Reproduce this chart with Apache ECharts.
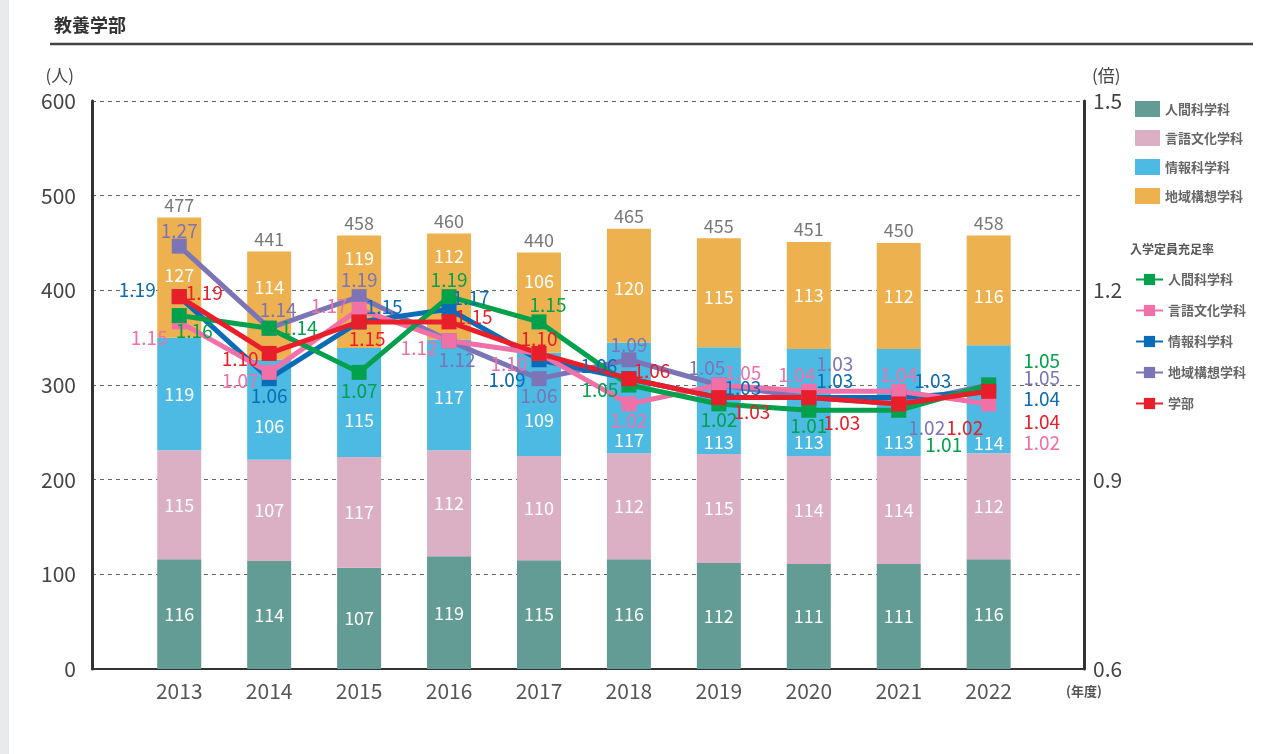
<!DOCTYPE html>
<html>
<head>
<meta charset="utf-8">
<script src="https://cdn.jsdelivr.net/npm/echarts@6/dist/echarts.min.js"></script>
<style>
  html, body { margin: 0; padding: 0; background: #fff; }
  #chart { width: 1287px; height: 754px; }
</style>
</head>
<body>
<div id="chart"></div>
<script>
const years = ['2013', '2014', '2015', '2016', '2017', '2018', '2019', '2020', '2021', '2022'];

// 在籍者数 (人)
const humanSci = [116, 114, 107, 119, 115, 116, 112, 111, 111, 116];
const langCulture = [115, 107, 117, 112, 110, 112, 115, 114, 114, 112];
const infoSci = [119, 106, 115, 117, 109, 117, 113, 113, 113, 114];
const regionDesign = [127, 114, 119, 112, 106, 120, 115, 113, 112, 116];

// 入学定員充足率 (倍)
const rateHuman = [1.16, 1.14, 1.07, 1.19, 1.15, 1.05, 1.02, 1.01, 1.01, 1.05];
const rateLang = [1.15, 1.07, 1.17, 1.12, 1.10, 1.02, 1.05, 1.04, 1.04, 1.02];
const rateInfo = [1.19, 1.06, 1.15, 1.17, 1.09, 1.06, 1.03, 1.03, 1.03, 1.04];
const rateRegion = [1.27, 1.14, 1.19, 1.12, 1.06, 1.09, 1.05, 1.03, 1.02, 1.05];
const rateFaculty = [1.19, 1.10, 1.15, 1.15, 1.10, 1.06, 1.03, 1.03, 1.02, 1.04];

// label nudges (px) so the numbers keep clear of the lines
const shiftHuman = [0, 0, 0, 0, 0, 0, 0, 0, 0, 0];
const shiftLang = [0, 0, 0, 0, 0, 0, 0, 0, 0, 0];
const shiftInfo = [0, 17, 18, 2, 16, 42, 42, 40, 40, 44];
const shiftRegion = [-2, -18, -34, -30, -21, 3, 4, 0, 0, 6];

const offHuman = [[15, 15], [30, 0], [0, 18], [0, -17], [9, -17], [-29, 5], [0, 16], [0, 16], [45, 35], [53, -24]];
const offLang = [[-30, 16], [-29, 8], [-30, -3], [-30, 7], [-30, 10], [0, 17], [24, -12], [-12, -17], [0, -17], [53, 39]];
const offInfo = [[-42, -7], [0, 17], [25, -15], [22, -11], [-32, 20], [-30, -13], [24, -10], [26, -17], [34, -17], [53, 7]];
const offRegion = [[0, -15], [9, -18], [0, -17], [8, 19], [0, 17], [0, -15], [-12, -17], [26, -34], [28, 24], [53, -7]];
const offFaculty = [[25, -4], [-29, 5], [8, 17], [25, -5], [0, -15], [23, -8], [33, 14], [33, 25], [66, 24], [53, 30]];

const totals = years.map((_, i) => humanSci[i] + langCulture[i] + infoSci[i] + regionDesign[i]);

const FONT = "'Noto Sans CJK JP', 'Noto Sans', sans-serif";

const chart = echarts.init(document.getElementById('chart'));

// value first so that the stack runs on the y dimension
const barSeries = (name, values, shifts, color) => ({
  name: name,
  type: 'bar',
  stack: 'total',
  barWidth: 44,
  itemStyle: { color: color },
  label: { show: true, position: 'inside', color: '#fff', fontSize: 18, formatter: (p) => p.value[0] },
  encode: { x: 1, y: 0 },
  data: values.map((v, i) => ({ value: [v, i], label: { offset: [0, shifts[i]] } })),
  z: 2
});

const lineSeries = (name, values, offsets, color) => ({
  name: name,
  type: 'line',
  yAxisIndex: 1,
  symbol: 'rect',
  symbolSize: 15,
  lineStyle: { color: color, width: 5 },
  itemStyle: { color: color },
  label: {
    show: true,
    position: 'inside',
    color: color,
    fontSize: 19,
    formatter: (p) => p.value[1].toFixed(2)
  },
  data: values.map((v, i) => ({ value: [i, v], label: { offset: offsets[i] } })),
  z: 5
});

const option = {
  animation: false,
  textStyle: { fontFamily: FONT },
  title: {
    text: '教養学部',
    left: 49,
    top: 11,
    textStyle: { fontSize: 18, fontWeight: 'bold', color: '#333', fontFamily: FONT }
  },
  graphic: [
    { type: 'rect', left: 0, top: 0, shape: { width: 9, height: 754 }, style: { fill: '#e9eaec' } },
    { type: 'line', shape: { x1: 50, y1: 44, x2: 1253, y2: 44 }, style: { stroke: '#444', lineWidth: 2.5 } },
    {
      type: 'text', left: 1130, top: 243,
      style: { text: '入学定員充足率', fontSize: 12, fontWeight: 'bold', fill: '#555', fontFamily: FONT }
    }
  ],
  legend: [
    {
      orient: 'vertical',
      left: 1130,
      top: 96,
      itemWidth: 25,
      itemHeight: 16,
      itemGap: 13,
      icon: 'rect',
      textStyle: { fontSize: 13, color: '#666', fontWeight: 'bold' },
      data: ['人間科学科', '言語文化学科', '情報科学科', '地域構想学科']
    },
    {
      orient: 'vertical',
      left: 1130,
      top: 268,
      itemWidth: 27,
      itemHeight: 14,
      itemGap: 18,
      textStyle: { fontSize: 13, color: '#666', fontWeight: 'bold' },
      data: ['人間科学科 ', '言語文化学科 ', '情報科学科 ', '地域構想学科 ', '学部']
    }
  ],
  grid: { left: 92, right: 203, top: 101, bottom: 85 },
  xAxis: {
    type: 'value',
    min: -0.97,
    max: 10.06,
    axisLine: { show: true, onZero: false, lineStyle: { color: '#333', width: 2 } },
    axisTick: { show: false },
    splitLine: { show: false },
    axisLabel: {
      customValues: years.map((_, i) => i),
      formatter: (v) => years[v],
      fontSize: 21,
      color: '#555',
      margin: 12
    },
    name: '(年度)',
    nameLocation: 'end',
    nameGap: 0,
    nameTextStyle: { fontSize: 13, color: '#555', fontWeight: 'bold', align: 'center', verticalAlign: 'top', padding: [16, 0, 0, 0] }
  },
  yAxis: [
    {
      type: 'value',
      min: 0,
      max: 600,
      interval: 100,
      axisLine: { show: true, onZero: false, lineStyle: { color: '#333', width: 3 } },
      axisTick: { show: false },
      axisLabel: { fontSize: 21, color: '#444', margin: 16 },
      splitLine: { lineStyle: { color: '#666', type: [4, 4], width: 1 } },
      name: '(人)',
      nameLocation: 'end',
      nameGap: 17,
      nameTextStyle: { fontSize: 17, color: '#444', align: 'right', padding: [0, 18, 0, 0] }
    },
    {
      type: 'value',
      position: 'right',
      min: 0.6,
      max: 1.5,
      interval: 0.3,
      axisLine: { show: true, onZero: false, lineStyle: { color: '#333', width: 3 } },
      axisTick: { show: false },
      axisLabel: { fontSize: 21, color: '#444', margin: 9, formatter: (v) => v.toFixed(1) },
      splitLine: { show: false },
      name: '(倍)',
      nameLocation: 'end',
      nameGap: 17,
      nameTextStyle: { fontSize: 17, color: '#444', align: 'left', padding: [0, 0, 0, 8] }
    }
  ],
  series: [
    barSeries('人間科学科', humanSci, shiftHuman, '#629c94'),
    barSeries('言語文化学科', langCulture, shiftLang, '#dcb0c4'),
    barSeries('情報科学科', infoSci, shiftInfo, '#4cbae3'),
    barSeries('地域構想学科', regionDesign, shiftRegion, '#edb24f'),
    {
      name: 'total',
      type: 'scatter',
      symbolSize: 1,
      itemStyle: { color: 'transparent' },
      label: { show: true, position: 'top', distance: 3, color: '#555', fontSize: 18, formatter: (p) => p.value[1] },
      data: totals.map((t, i) => [i, t]),
      z: 3
    },
    lineSeries('地域構想学科 ', rateRegion, offRegion, '#7b75b8'),
    lineSeries('情報科学科 ', rateInfo, offInfo, '#0a6cb7'),
    lineSeries('言語文化学科 ', rateLang, offLang, '#f070a8'),
    lineSeries('人間科学科 ', rateHuman, offHuman, '#03a14b'),
    lineSeries('学部', rateFaculty, offFaculty, '#e81f2a')
  ]
};

chart.setOption(option);
</script>
</body>
</html>
